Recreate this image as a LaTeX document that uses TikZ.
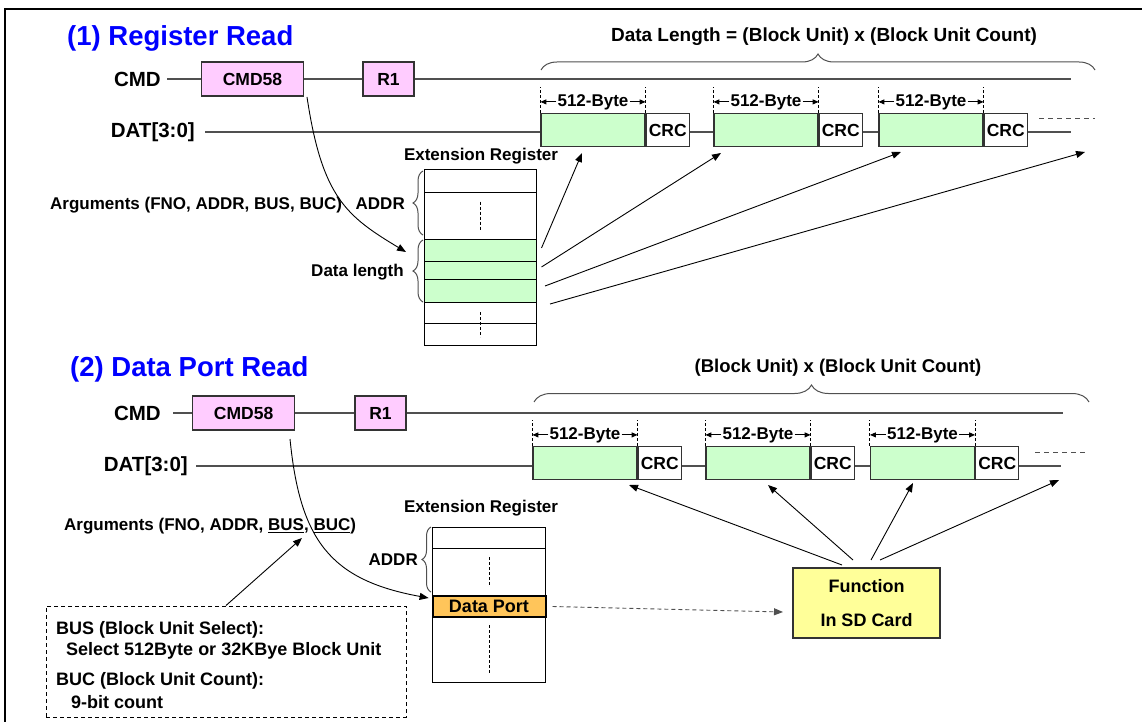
\documentclass[tikz,border=0pt]{standalone}
\usepackage{fontspec}
\setmainfont{Liberation Sans}
\usetikzlibrary{arrows.meta,decorations.pathreplacing,calc}
\definecolor{pinkf}{HTML}{FFCCFF}
\definecolor{greenf}{HTML}{CCFFCC}
\definecolor{yellowf}{HTML}{FFFF99}
\definecolor{orangef}{HTML}{FFC55A}
\definecolor{sigc}{HTML}{505050}
\definecolor{edgec}{HTML}{333333}
\definecolor{titleblue}{HTML}{0000FF}
\newcommand\fsz[1]{\fontsize{#1}{#1}\selectfont\bfseries}
\newcommand\dimmark[2]{%
  \draw[dimdash] (#1.north west) -- ++(0,-26);
  \draw[dimdash] (#1.north east) -- ++(0,-26);
  \node[font=\fsz{17}, inner sep=1pt] (#2) at ($(#1.north)+(0,-11)$) {512-Byte};
  \draw[dimarrow] (#2.west) -- (#2.west -| #1.west);
  \draw[dimarrow] (#2.east) -- (#2.east -| #1.east);
}
\begin{document}
\begin{tikzpicture}[x=1pt,y=-1pt,
  lbl/.style={inner sep=2pt, font=\fsz{20.5}},
  txt/.style={inner sep=1pt, font=\fsz{17}},
  ttl/.style={inner sep=0pt, font=\fsz{27.5}, text=titleblue},
  cmdbox/.style={draw=edgec, fill=pinkf, line width=1.2pt, minimum height=34pt, inner sep=0pt, font=\fsz{17.5}},
  datbox/.style={draw=edgec, fill=greenf, line width=1.2pt, minimum height=33pt, minimum width=104pt, inner sep=0pt},
  crcbox/.style={draw=edgec, fill=white, line width=1.2pt, minimum height=33pt, minimum width=43pt, inner sep=0pt, font=\fsz{17.5}, anchor=west},
  cellbox/.style={draw=black, line width=1pt, minimum width=112pt, inner sep=0pt, outer sep=0pt, anchor=north west},
  sigline/.style={draw=sigc, line width=1.3pt},
  conn/.style={-{Triangle[length=9pt,width=7pt]}, line width=0.9pt, draw=black},
  dimarrow/.style={-{Triangle[length=6pt,width=5pt]}, line width=0.9pt},
  dimdash/.style={dash pattern=on 3pt off 2pt, line width=0.9pt},
  mybrace/.style={decorate, decoration={brace, amplitude=#1}, draw=sigc, line width=1pt}
]
\useasboundingbox (0,0) rectangle (1142,722);
% frame
\draw[line width=2pt] (5,722) -- (5,9) -- (1142,9);

% ================= Section 1 =================
\node[ttl, anchor=west] (title1) at (67,38) {(1) Register Read};
\node[lbl, anchor=east] (cmdlA) at (163,79) {CMD};
\node[cmdbox, minimum width=102pt] (cmdA) at (252.5,79) {CMD58};
\node[cmdbox, minimum width=51pt] (r1A) at (388.5,79) {R1};
\coordinate (cAend) at (1071,79);
\draw[sigline, shorten <=4pt] (cmdlA.east) -- (cmdA.west);
\draw[sigline] (cmdA.east) -- (r1A.west);
\draw[sigline] (r1A.east) -- (cAend);

\node[lbl, anchor=east] (datlA) at (197,132) {DAT[3:0]};
\node[datbox] (blkA1) at (593,130) {};
\node[crcbox] (crcA1) at (blkA1.east) {CRC};
\node[datbox] (blkA2) at (766,130) {};
\node[crcbox] (crcA2) at (blkA2.east) {CRC};
\node[datbox] (blkA3) at (931,130) {};
\node[crcbox] (crcA3) at (blkA3.east) {CRC};
\coordinate (dAend) at (1071,132);
\draw[sigline, shorten <=8pt] (datlA.east) -- (datlA.east -| blkA1.west);
\draw[sigline] (crcA1.east |- datlA.east) -- (blkA2.west |- datlA.east);
\draw[sigline] (crcA2.east |- datlA.east) -- (blkA3.west |- datlA.east);
\draw[sigline] (crcA3.east |- datlA.east) -- (dAend);
\draw[dimdash, draw=sigc, dash pattern=on 5pt off 4pt] (1039,118) -- (1095,118);
\dimmark{blkA1}{dmA1}
\dimmark{blkA2}{dmA2}
\dimmark{blkA3}{dmA3}

\draw[mybrace=16pt] (541,70) -- (1095,70);
\node[txt, font=\fsz{19}] (lenA) at (824,37) {Data Length = (Block Unit) x (Block Unit Count)};

\node[txt] (extA) at (481,156) {Extension Register};
\node[cellbox, minimum height=22pt] (tA1) at (424,170) {};
\node[cellbox, minimum height=47pt] (tA2) at (424,192) {};
\node[cellbox, fill=greenf, minimum height=22pt] (tA3) at (424,239) {};
\node[cellbox, fill=greenf, minimum height=18pt] (tA4) at (424,261) {};
\node[cellbox, fill=greenf, minimum height=23pt] (tA5) at (424,279) {};
\node[cellbox, minimum height=21pt] (tA6) at (424,302) {};
\node[cellbox, minimum height=22pt] (tA7) at (424,323) {};
\draw[dimdash] (tA2.center) ++(0,-14) -- ++(0,28);
\draw[dimdash] (tA6.south) ++(0,-11) -- ++(0,25);

\draw[mybrace=10pt] (423,235) -- (423,171);
\draw[mybrace=10pt] (423,302) -- (423,240);
\node[txt, anchor=east] (addrA) at (406,204) {ADDR};
\node[txt, anchor=east] (dlA) at (405,272) {Data length};
\node[txt, anchor=west] (argA) at (49,205) {Arguments (FNO, ADDR, BUS, BUC)};

\coordinate (cA) at (307,97);
\coordinate (eA) at (406,252);
\draw[conn] (cA) .. controls (322,197) and (346,216) .. (eA);

\coordinate (sA1) at (541.5,248);
\coordinate (sA2) at (541.5,267);
\coordinate (sA3) at (545,286);
\coordinate (sA4) at (550,304);
\coordinate (hA1) at (582,153);
\coordinate (hA2) at (721,153);
\coordinate (hA3) at (901,152);
\coordinate (hA4) at (1085,152);
\draw[conn] (sA1) -- (hA1);
\draw[conn] (sA2) -- (hA2);
\draw[conn] (sA3) -- (hA3);
\draw[conn] (sA4) -- (hA4);

% ================= Section 2 =================
\node[ttl, anchor=west] (title2) at (70,369) {(2) Data Port Read};
\node[lbl, anchor=east] (cmdlB) at (163,413) {CMD};
\node[cmdbox, minimum width=102pt] (cmdB) at (243.6,413) {CMD58};
\node[cmdbox, minimum width=51pt] (r1B) at (380.5,413) {R1};
\coordinate (cBend) at (1063,413);
\draw[sigline, shorten <=10pt] (cmdlB.east) -- (cmdB.west);
\draw[sigline] (cmdB.east) -- (r1B.west);
\draw[sigline] (r1B.east) -- (cBend);

\node[lbl, anchor=east] (datlB) at (190,466) {DAT[3:0]};
\node[datbox] (blkB1) at (585,463) {};
\node[crcbox] (crcB1) at (blkB1.east) {CRC};
\node[datbox] (blkB2) at (758,463) {};
\node[crcbox] (crcB2) at (blkB2.east) {CRC};
\node[datbox] (blkB3) at (922.5,463) {};
\node[crcbox] (crcB3) at (blkB3.east) {CRC};
\coordinate (dBend) at (1061,466);
\draw[sigline, shorten <=6pt] (datlB.east) -- (datlB.east -| blkB1.west);
\draw[sigline] (crcB1.east |- datlB.east) -- (blkB2.west |- datlB.east);
\draw[sigline] (crcB2.east |- datlB.east) -- (blkB3.west |- datlB.east);
\draw[sigline] (crcB3.east |- datlB.east) -- (dBend);
\draw[dimdash, draw=sigc, dash pattern=on 5pt off 4pt] (1035,452) -- (1085,452);
\dimmark{blkB1}{dmB1}
\dimmark{blkB2}{dmB2}
\dimmark{blkB3}{dmB3}

\draw[mybrace=17pt] (534,402) -- (1089,402);
\node[txt, font=\fsz{18.5}] (lenB) at (838,368) {(Block Unit) x (Block Unit Count)};

\node[txt] (extB) at (481,508) {Extension Register};
\node[cellbox, minimum width=113pt, minimum height=21pt] (tB1) at (432.5,527) {};
\node[cellbox, minimum width=113pt, minimum height=48pt] (tB2) at (432.5,548) {};
\node[cellbox, minimum width=113pt, minimum height=65pt] (tB4) at (432.5,617) {};
\node[cellbox, minimum width=113pt, minimum height=21pt, fill=orangef, line width=2pt, font=\fsz{18}] (dp) at (432.5,596) {Data Port};
\draw[dimdash] (tB2.center) ++(0,-15) -- ++(0,28);
\draw[dimdash] (tB4.center) ++(0,-24.5) -- ++(0,48);

\draw[mybrace=9pt] (431,592) -- (431,527);
\node[txt, anchor=east] (addrB) at (419,560) {ADDR};
\node[txt, anchor=west] (argB) at (63,526) {Arguments (FNO, ADDR, \underline{BUS}, \underline{BUC})};

\coordinate (cB) at (290,439);
\coordinate (eB) at (428.6,598);
\draw[conn] (cB) .. controls (300,540) and (330,580) .. (eB);

\node[draw=black, dash pattern=on 4pt off 3pt, line width=1pt, minimum width=360pt, minimum height=111pt] (note) at (226,661.5) {};
\node[txt, font=\fsz{18}, anchor=west] (n1) at (55,630) {BUS (Block Unit Select):};
\node[txt, font=\fsz{18}, anchor=west] (n2) at (65,651) {Select 512Byte or 32KBye Block Unit};
\node[txt, font=\fsz{18}, anchor=west] (n3) at (55,681) {BUC (Block Unit Count):};
\node[txt, font=\fsz{18}, anchor=west] (n4) at (70,702) {9-bit count};
\coordinate (hN) at (302,538);
\draw[conn] (note.north) -- (hN);

\node[draw=edgec, fill=yellowf, line width=1.2pt, minimum width=147pt, minimum height=70pt, align=center, font=\fontsize{18}{34}\selectfont\bfseries] (fn) at (866.5,603) {Function\\In SD Card};
\coordinate (eDP) at (783,612);
\draw[conn, dash pattern=on 4pt off 3pt, draw=sigc] (dp.east) ++(7,0) -- (eDP);

\coordinate (sB1) at (842,565);
\coordinate (sB2) at (853,560);
\coordinate (sB3) at (871,560);
\coordinate (sB4) at (880,560);
\coordinate (hB1) at (629,485);
\coordinate (hB2) at (768,485);
\coordinate (hB3) at (913,483);
\coordinate (hB4) at (1059,480);
\draw[conn] (sB1) -- (hB1);
\draw[conn] (sB2) -- (hB2);
\draw[conn] (sB3) -- (hB3);
\draw[conn] (sB4) -- (hB4);
\end{tikzpicture}
\end{document}
